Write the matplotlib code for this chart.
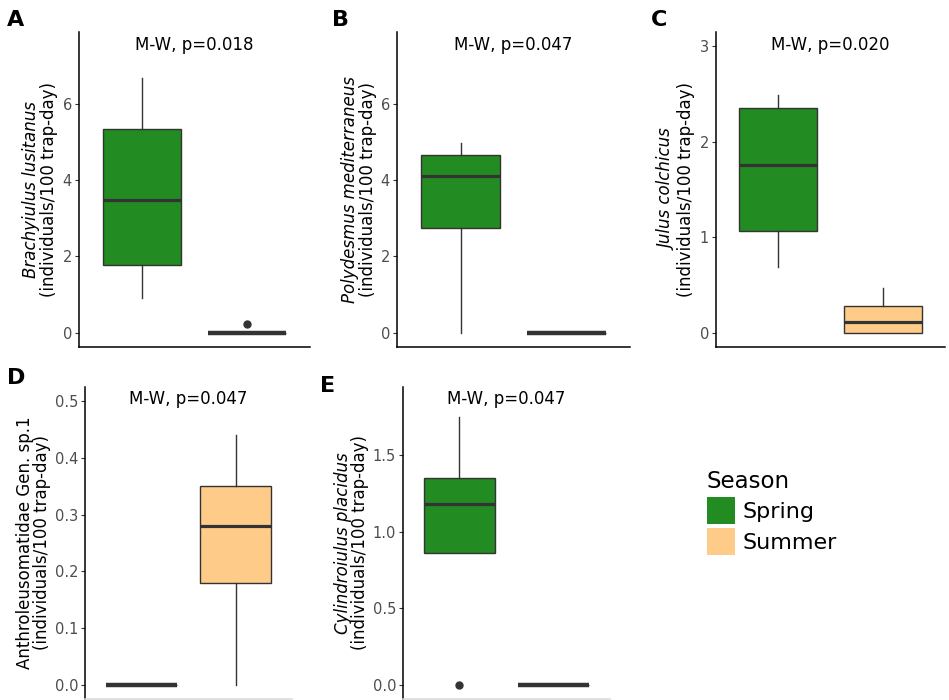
import matplotlib.pyplot as plt
from matplotlib.patches import Patch

# Box statistics: (whislo, q1, median, q3, whishi)
seasons = ["Spring", "Summer"]
species = ["Brachyiulus lusitanus", "Polydesmus mediterraneus", "Julus colchicus",
           "Anthroleusomatidae Gen. sp.1", "Cylindroiulus placidus"]
italic = [True, True, True, False, True]
p_labels = ["M-W, p=0.018", "M-W, p=0.047", "M-W, p=0.020", "M-W, p=0.047", "M-W, p=0.047"]
letters = ["A", "B", "C", "D", "E"]

spring_stats = [
    [0.90, 1.78, 3.47, 5.34, 6.66],
    [0.00, 2.74, 4.10, 4.66, 4.97],
    [0.69, 1.07, 1.76, 2.35, 2.49],
    [0.00, 0.00, 0.00, 0.00, 0.00],
    [0.86, 0.86, 1.18, 1.35, 1.75],
]
summer_stats = [
    [0.00, 0.00, 0.00, 0.00, 0.00],
    [0.00, 0.00, 0.00, 0.00, 0.00],
    [0.00, 0.00, 0.11, 0.28, 0.47],
    [0.00, 0.18, 0.28, 0.35, 0.44],
    [0.00, 0.00, 0.00, 0.00, 0.00],
]
spring_fliers = [[], [], [], [], [0.0]]
summer_fliers = [[0.23], [], [], [], []]

y_limits = [(-0.375, 7.875), (-0.375, 7.875), (-0.15, 3.15), (-0.025, 0.525), (-0.0925, 1.9425)]
y_ticks = [[0, 2, 4, 6], [0, 2, 4, 6], [0, 1, 2, 3],
           [0.0, 0.1, 0.2, 0.3, 0.4, 0.5], [0.0, 0.5, 1.0, 1.5]]
tick_fmt = ["{:.0f}", "{:.0f}", "{:.0f}", "{:.1f}", "{:.1f}"]

colors = {"Spring": "#228B22", "Summer": "#FECB89"}

W, H = 949, 700
fig = plt.figure(figsize=(W / 100, H / 100), dpi=100)

# panel boxes in pixels: left, top, right, bottom
panels = [(79, 32, 310, 347), (397, 32, 630, 347), (716, 32, 945, 347),
          (85, 387, 292, 699), (403, 387, 610, 699)]
label_x = [(31, 49), (350, 368), (668, 686), (25, 42), (343, 360)]
letter_pos = [(16, 20), (341, 20), (659, 20), (16, 378), (328, 386)]

for i in range(5):
    l, t, r, b = panels[i]
    ax = fig.add_axes([l / W, 1 - b / H, (r - l) / W, (b - t) / H])

    stats = []
    for vals, fl in ((spring_stats[i], spring_fliers[i]), (summer_stats[i], summer_fliers[i])):
        stats.append(dict(whislo=vals[0], q1=vals[1], med=vals[2], q3=vals[3],
                          whishi=vals[4], fliers=fl))
    bp = ax.bxp(stats, positions=[1, 2], widths=0.75, patch_artist=True,
                showcaps=False,
                boxprops=dict(edgecolor="#333333", linewidth=1.0),
                whiskerprops=dict(color="#333333", linewidth=1.0),
                medianprops=dict(color="#333333", linewidth=2.3, solid_capstyle="butt"),
                flierprops=dict(marker="o", markersize=5, markerfacecolor="#333333",
                                markeredgecolor="#333333"))
    all_vals = [spring_stats[i], summer_stats[i]]
    for patch, med, s, vals in zip(bp["boxes"], bp["medians"], seasons, all_vals):
        patch.set_facecolor(colors[s])
        if max(vals) == 0:
            med.set_linewidth(3.2)

    ax.set_xlim(0.4, 2.6)
    ax.set_ylim(*y_limits[i])
    ax.set_yticks(y_ticks[i])
    ax.set_yticklabels([tick_fmt[i].format(v) for v in y_ticks[i]])
    ax.set_xticks([])
    ax.tick_params(axis="y", length=3, width=0.8, color="#333333", labelcolor="#4D4D4D",
                   labelsize=10.5, pad=2)
    for side in ["top", "right"]:
        ax.spines[side].set_visible(False)
    ax.spines["left"].set_linewidth(1.1)
    ax.spines["bottom"].set_linewidth(1.1)
    if i >= 3:
        ax.spines["bottom"].set_color("#D9D9D9")

    ax.text(0.5, 0.96, p_labels[i], transform=ax.transAxes, ha="center", va="center",
            fontsize=12)

    yc = 1 - (t + b) / 2 / H
    fig.text(label_x[i][0] / W, yc, species[i], rotation=90, ha="center", va="center",
             fontsize=12, style="italic" if italic[i] else "normal")
    fig.text(label_x[i][1] / W, yc, "(individuals/100 trap-day)", rotation=90,
             ha="center", va="center", fontsize=12)
    fig.text(letter_pos[i][0] / W, 1 - letter_pos[i][1] / H, letters[i], ha="center",
             va="center", fontsize=16, fontweight="bold")

handles = [Patch(facecolor=colors[s], edgecolor="none") for s in seasons]
fig.legend(handles, seasons, title="Season", loc="upper left",
           bbox_to_anchor=(707 / W, 1 - 470 / H), frameon=False, fontsize=16,
           title_fontsize=16.5, borderpad=0, borderaxespad=0, handlelength=1.25,
           handleheight=1.45, labelspacing=0.2, handletextpad=0.35, alignment="left")

fig.savefig("out.png", dpi=100)
